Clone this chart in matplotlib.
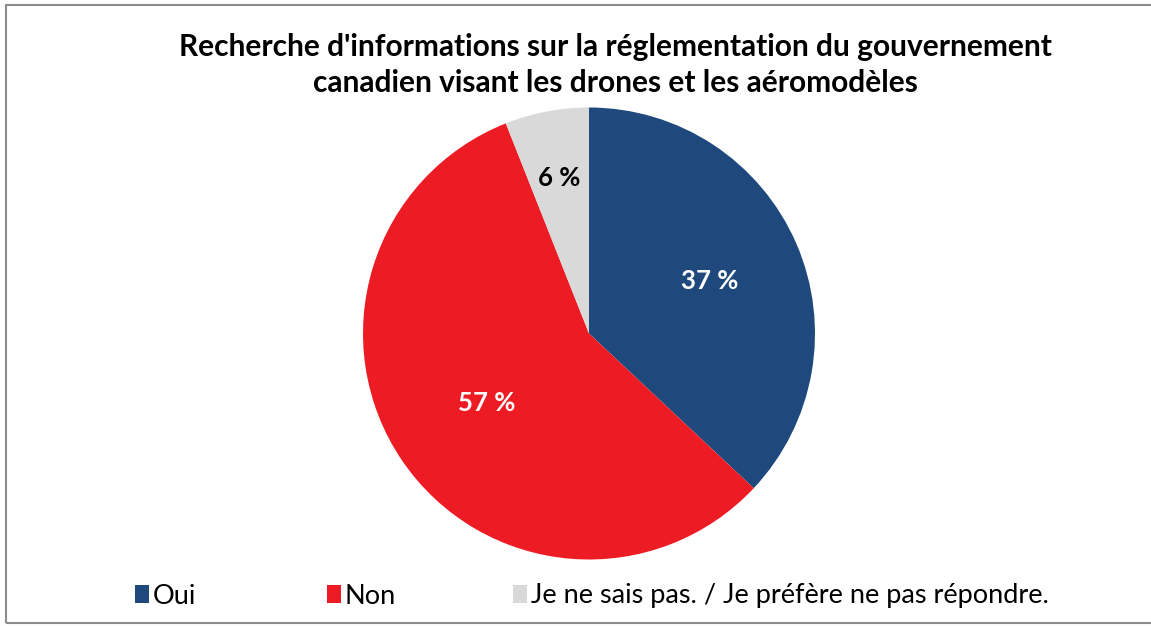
import numpy as np
import matplotlib.pyplot as plt
from matplotlib.patches import Rectangle

plt.rcParams['font.family'] = ['Lato', 'DejaVu Sans']

title = "Recherche d'informations sur la réglementation du gouvernement\ncanadien visant les drones et les aéromodèles"
categories = ["Oui", "Non", "Je ne sais pas. / Je préfère ne pas répondre."]
values = [37, 57, 6]
colors = ["#1F497D", "#ED1C24", "#D9D9D9"]
label_colors = ["white", "white", "black"]
label_dist = [0.58, 0.545, 0.70]

W, H = 1151, 626
fig = plt.figure(figsize=(W / 100, H / 100), dpi=100)

# frame around the chart (right edge falls outside the picture)
fig.patches.append(Rectangle((6 / W, 1 - 623 / H), 1.2, (623 - 5) / H,
                             transform=fig.transFigure, fill=False,
                             edgecolor="#8C8C8C", linewidth=1.5))

# pie axes: centre (589, 333), radius ~226 px
cx, cy, r = 589, 333.5, 226
ax = fig.add_axes([(cx - r) / W, 1 - (cy + r) / H, 2 * r / W, 2 * r / H])
wedges, texts = ax.pie(values, colors=colors, startangle=90, counterclock=False, radius=1.0)
for w, v, c, d in zip(wedges, values, label_colors, label_dist):
    ang = np.deg2rad((w.theta1 + w.theta2) / 2)
    ax.text(d * np.cos(ang), d * np.sin(ang), "%d %%" % v, ha="center", va="center",
            color=c, fontsize=18.5, fontweight="bold")
ax.set_xlim(-1, 1)
ax.set_ylim(-1, 1)
ax.set_aspect("equal")

fig.text(615.5 / W, 1 - 65 / H, title, ha="center", va="center", fontsize=21.5,
         fontweight="bold", linespacing=1.38)

# legend entries placed as in the original
legend_x = [135, 327, 513]
for w, lab, x in zip(wedges, categories, legend_x):
    fig.legend([w], [lab], loc="center left", bbox_to_anchor=(x / W, 1 - 596 / H),
               frameon=False, fontsize=19.5, handlelength=0.5, handleheight=0.6,
               handletextpad=0.15, borderaxespad=0, borderpad=0)

fig.savefig("out.png", dpi=100)
